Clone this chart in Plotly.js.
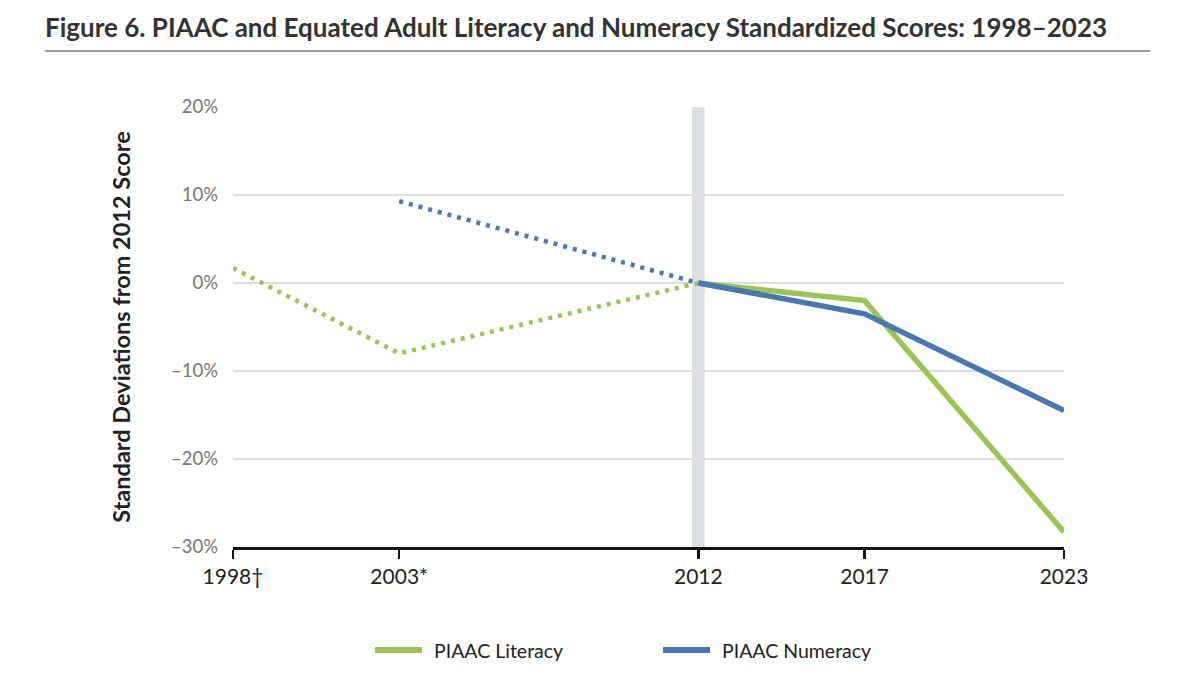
<!DOCTYPE html>
<html>
<head>
<meta charset="utf-8">
<script src="https://cdn.plot.ly/plotly-3.0.1.min.js"></script>
<style>html,body{margin:0;padding:0;background:#fff;}#chart{width:1179px;height:685px;}</style>
</head>
<body>
<div id="chart"></div>
<script>
const years = [1998, 2003, 2012, 2017, 2023];
const yearLabels = ['1998†', '2003*', '2012', '2017', '2023'];
const litEquatedYears = [1998, 2003, 2012];
const litEquated = [1.7, -8.0, 0];
const numEquatedYears = [2003, 2012];
const numEquated = [9.3, 0];
const piaacYears = [2012, 2017, 2023];
const litPiaac = [0, -2.0, -28.3];
const numPiaac = [0, -3.5, -14.5];
const yTicks = [20, 10, 0, -10, -20, -30];
const yTickLabels = ['20%', '10%', '0%', '–10%', '–20%', '–30%'];
const baseYear = 2012;
const legendNames = ['PIAAC Literacy', 'PIAAC Numeracy'];

const green = '#9cc453';
const blue = '#4878b4';
const dotDash = '4px,6px';

const traces = [
  {x: litEquatedYears, y: litEquated, mode: 'lines', showlegend: false, hoverinfo: 'skip',
   line: {color: green, width: 4.5, dash: dotDash}},
  {x: numEquatedYears, y: numEquated, mode: 'lines', showlegend: false, hoverinfo: 'skip',
   line: {color: blue, width: 4.5, dash: dotDash}},
  {x: piaacYears, y: litPiaac, mode: 'lines', name: legendNames[0], showlegend: false,
   line: {color: green, width: 5.5}},
  {x: piaacYears, y: numPiaac, mode: 'lines', name: legendNames[1], showlegend: false,
   line: {color: blue, width: 5.5}}
];

const L = 233, R = 1064, T = 107, B = 547;
const pw = R - L, ph = B - T;
const px = v => (v - L) / pw;
const py = v => (B - v) / ph;

// manual legend (longer line samples than Plotly's built-in legend)
const legendItems = [
  {name: legendNames[0], color: green, x0: 375},
  {name: legendNames[1], color: blue, x0: 663}
];
const legendY = 650;

const shapes = [
  {type: 'rect', xref: 'x', yref: 'y', x0: baseYear - 0.19, x1: baseYear + 0.19, y0: -30, y1: 20,
   fillcolor: '#dcdfe3', line: {width: 0}, layer: 'below'},
  {type: 'line', xref: 'paper', yref: 'paper', x0: px(45), x1: px(1150),
   y0: py(51), y1: py(51), line: {color: '#999', width: 2}}
];
const annotations = [];
legendItems.forEach(it => {
  shapes.push({type: 'line', xref: 'paper', yref: 'paper', x0: px(it.x0), x1: px(it.x0 + 47),
    y0: py(legendY), y1: py(legendY), line: {color: it.color, width: 6}});
  annotations.push({xref: 'paper', yref: 'paper', x: px(it.x0 + 57), y: py(legendY),
    xanchor: 'left', yanchor: 'middle', showarrow: false, text: it.name,
    font: {size: 19.5, color: '#222'}});
});

const layout = {
  width: 1179, height: 685,
  margin: {l: L, r: 1179 - R, t: T, b: 685 - B},
  paper_bgcolor: '#fff', plot_bgcolor: '#fff',
  font: {family: 'Lato, "Open Sans", sans-serif', color: '#222'},
  title: {text: 'Figure 6. PIAAC and Equated Adult Literacy and Numeracy Standardized Scores: 1998–2023',
    font: {family: 'Lato, sans-serif', size: 26, color: '#333', weight: 'bold'},
    xref: 'container', yref: 'container', x: 45/1179, xanchor: 'left', y: 1 - 28/685, yanchor: 'middle'},
  xaxis: {range: [1998, 2023], tickvals: years, ticktext: yearLabels,
    showgrid: false, zeroline: false, showline: true, linecolor: '#111', linewidth: 2.5,
    ticks: 'outside', ticklen: 9, tickwidth: 2.5, tickcolor: '#111',
    tickfont: {size: 21, color: '#222'}, fixedrange: true},
  yaxis: {range: [-30, 20], tickvals: yTicks, ticktext: yTickLabels,
    showgrid: true, gridcolor: '#dedede', gridwidth: 1.5, zeroline: false, showline: false,
    ticks: '', ticklabelstandoff: 14,
    tickfont: {size: 18.5, color: '#777'},
    title: {text: 'Standard Deviations from 2012 Score', standoff: 33,
      font: {size: 23.5, color: '#222', weight: 'bold'}}, fixedrange: true},
  shapes: shapes,
  annotations: annotations,
  showlegend: false
};

Plotly.newPlot('chart', traces, layout, {displayModeBar: false, staticPlot: true});
</script>
</body>
</html>
